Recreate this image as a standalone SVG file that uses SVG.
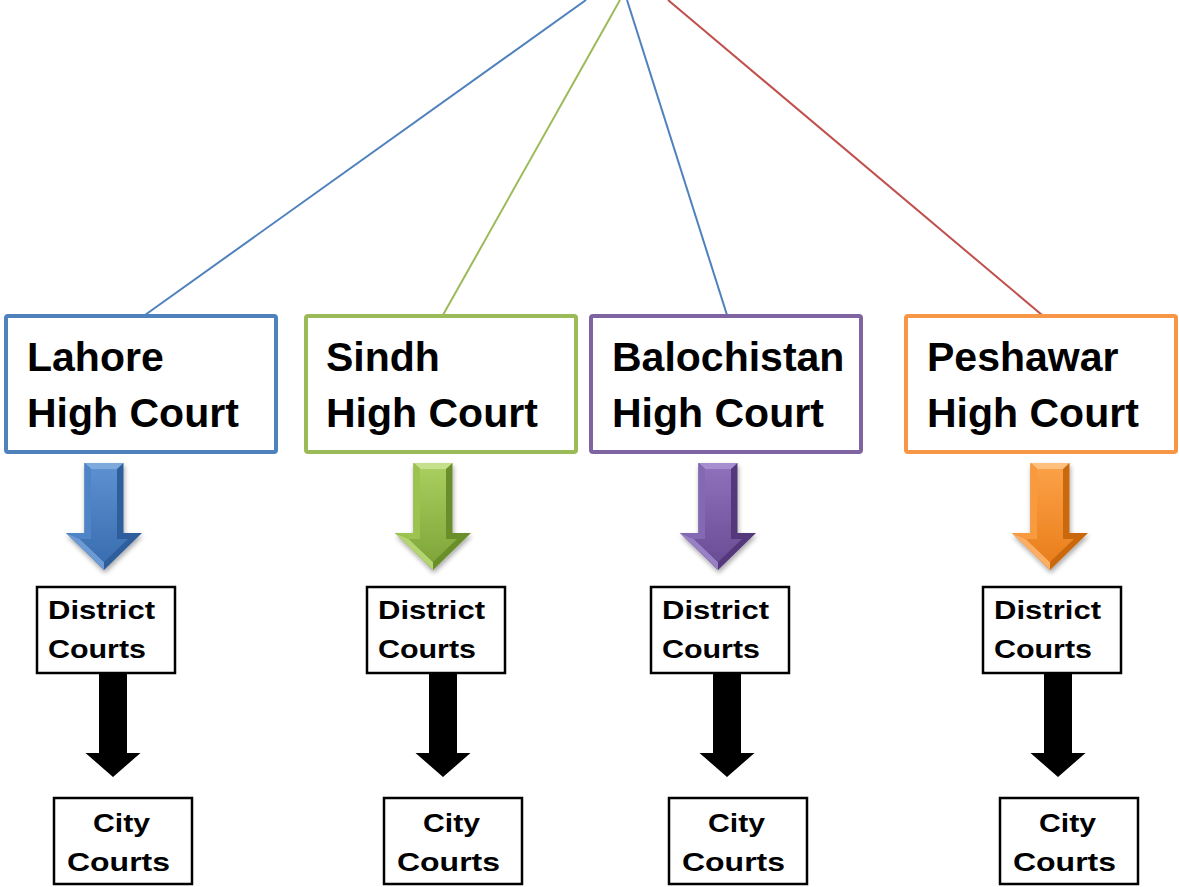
<svg xmlns="http://www.w3.org/2000/svg" width="1179" height="887" viewBox="0 0 1179 887">
<style>
.hc{fill:#fff;stroke-width:4}
.big{font-family:"Liberation Sans",Arial,sans-serif;font-weight:bold;font-size:41px;fill:#000}
.sm{font-family:"Liberation Sans",Arial,sans-serif;font-weight:bold;font-size:25px;fill:#000}
.lb{fill:#fff;stroke:#000;stroke-width:2.5}
.conn line{stroke-width:2;fill:none}
</style>
<defs>
<path id="arr" d="M-19.5,0 H19.5 V70 H38 L0,107 L-38,70 H-19.5 Z"/>
<path id="arrTop" d="M-19.5,0 H19.5 L13,6 H-13 Z"/>
<path id="arrL" d="M-19.5,0 L-13,6 V76 H-24 L-38,70 H-19.5 Z"/>
<path id="arrHL" d="M-38,70 L-24,76 L0,99 L0,107 Z"/>
<path id="arrFace" d="M-13,6 H13 V76 H24 L0,99 L-24,76 H-13 Z"/>
<path id="bk" d="M-14,0 H14 V79 H27.5 L0,103 L-27.5,79 H-14 Z"/>
<linearGradient id="gB" x1="0" y1="0" x2="0" y2="1"><stop offset="0" stop-color="#5b8fd0"/><stop offset="1" stop-color="#3a6eb0"/></linearGradient>
<linearGradient id="gG" x1="0" y1="0" x2="0" y2="1"><stop offset="0" stop-color="#a9cd5e"/><stop offset="1" stop-color="#7fa63a"/></linearGradient>
<linearGradient id="gP" x1="0" y1="0" x2="0" y2="1"><stop offset="0" stop-color="#8e6fbb"/><stop offset="1" stop-color="#6a4d95"/></linearGradient>
<linearGradient id="gO" x1="0" y1="0" x2="0" y2="1"><stop offset="0" stop-color="#fba046"/><stop offset="1" stop-color="#ea7f1c"/></linearGradient>
<filter id="sh" x="-30%" y="-20%" width="160%" height="150%"><feGaussianBlur in="SourceAlpha" stdDeviation="2.5"/><feOffset dx="1" dy="3"/><feComponentTransfer><feFuncA type="linear" slope="0.35"/></feComponentTransfer><feMerge><feMergeNode/><feMergeNode in="SourceGraphic"/></feMerge></filter>
</defs>
<rect width="1179" height="887" fill="#fff"/>

<g id="connectors" class="conn">
<line x1="586" y1="0" x2="145" y2="315" stroke="#4f81bd"/>
<line x1="620" y1="0" x2="443" y2="315" stroke="#9bbb59"/>
<line x1="627" y1="0" x2="727" y2="315" stroke="#4f81bd"/>
<line x1="668" y1="0" x2="1042" y2="315" stroke="#c0504d"/>
</g>

<g id="lahore">
<rect class="hc" x="6" y="316" width="270" height="136" rx="2" stroke="#4f81bd"/>
<text class="big" x="27" y="371">Lahore</text>
<text class="big" x="27" y="427">High Court</text>
</g>
<g id="sindh">
<rect class="hc" x="306" y="316" width="270" height="136" rx="2" stroke="#9bbb59"/>
<text class="big" x="326" y="371">Sindh</text>
<text class="big" x="326" y="427">High Court</text>
</g>
<g id="balochistan">
<rect class="hc" x="591" y="316" width="270" height="136" rx="2" stroke="#8064a2"/>
<text class="big" x="612" y="371">Balochistan</text>
<text class="big" x="612" y="427">High Court</text>
</g>
<g id="peshawar">
<rect class="hc" x="906" y="316" width="270" height="136" rx="2" stroke="#f79646"/>
<text class="big" x="927" y="371">Peshawar</text>
<text class="big" x="927" y="427">High Court</text>
</g>

<g id="arrow-lahore" transform="translate(104,463)" filter="url(#sh)">
<use href="#arr" fill="#2f5f9c"/>
<use href="#arrTop" fill="#7ea9dd"/>
<use href="#arrL" fill="#4f84c6"/>
<use href="#arrHL" fill="#6d9ad3"/>
<use href="#arrFace" fill="url(#gB)"/>
</g>
<g id="arrow-sindh" transform="translate(433,463)" filter="url(#sh)">
<use href="#arr" fill="#6b8f2a"/>
<use href="#arrTop" fill="#c4e08a"/>
<use href="#arrL" fill="#9cc24f"/>
<use href="#arrHL" fill="#b3d470"/>
<use href="#arrFace" fill="url(#gG)"/>
</g>
<g id="arrow-balochistan" transform="translate(718,463)" filter="url(#sh)">
<use href="#arr" fill="#54397c"/>
<use href="#arrTop" fill="#a78fcf"/>
<use href="#arrL" fill="#8367b3"/>
<use href="#arrHL" fill="#9880c4"/>
<use href="#arrFace" fill="url(#gP)"/>
</g>
<g id="arrow-peshawar" transform="translate(1050,463)" filter="url(#sh)">
<use href="#arr" fill="#c9680f"/>
<use href="#arrTop" fill="#ffc07e"/>
<use href="#arrL" fill="#f99a3e"/>
<use href="#arrHL" fill="#fcae62"/>
<use href="#arrFace" fill="url(#gO)"/>
</g>

<g id="district-lahore">
<rect class="lb" x="37" y="587" width="138" height="86"/>
<text class="sm" x="48" y="619" textLength="107" lengthAdjust="spacingAndGlyphs">District</text>
<text class="sm" x="48" y="658" textLength="98" lengthAdjust="spacingAndGlyphs">Courts</text>
</g>
<g id="district-sindh">
<rect class="lb" x="367" y="587" width="138" height="86"/>
<text class="sm" x="378" y="619" textLength="107" lengthAdjust="spacingAndGlyphs">District</text>
<text class="sm" x="378" y="658" textLength="98" lengthAdjust="spacingAndGlyphs">Courts</text>
</g>
<g id="district-balochistan">
<rect class="lb" x="651" y="587" width="138" height="86"/>
<text class="sm" x="662" y="619" textLength="107" lengthAdjust="spacingAndGlyphs">District</text>
<text class="sm" x="662" y="658" textLength="98" lengthAdjust="spacingAndGlyphs">Courts</text>
</g>
<g id="district-peshawar">
<rect class="lb" x="983" y="587" width="138" height="86"/>
<text class="sm" x="994" y="619" textLength="107" lengthAdjust="spacingAndGlyphs">District</text>
<text class="sm" x="994" y="658" textLength="98" lengthAdjust="spacingAndGlyphs">Courts</text>
</g>

<g id="black-arrows" fill="#000">
<use href="#bk" transform="translate(113,674)"/>
<use href="#bk" transform="translate(443,674)"/>
<use href="#bk" transform="translate(727,674)"/>
<use href="#bk" transform="translate(1058,674)"/>
</g>

<g id="city-lahore">
<rect class="lb" x="54" y="798" width="138" height="86"/>
<text class="sm" x="93" y="832" textLength="57" lengthAdjust="spacingAndGlyphs">City</text>
<text class="sm" x="67" y="871" textLength="103" lengthAdjust="spacingAndGlyphs">Courts</text>
</g>
<g id="city-sindh">
<rect class="lb" x="384" y="798" width="138" height="86"/>
<text class="sm" x="423" y="832" textLength="57" lengthAdjust="spacingAndGlyphs">City</text>
<text class="sm" x="397" y="871" textLength="103" lengthAdjust="spacingAndGlyphs">Courts</text>
</g>
<g id="city-balochistan">
<rect class="lb" x="669" y="798" width="138" height="86"/>
<text class="sm" x="708" y="832" textLength="57" lengthAdjust="spacingAndGlyphs">City</text>
<text class="sm" x="682" y="871" textLength="103" lengthAdjust="spacingAndGlyphs">Courts</text>
</g>
<g id="city-peshawar">
<rect class="lb" x="1000" y="798" width="138" height="86"/>
<text class="sm" x="1039" y="832" textLength="57" lengthAdjust="spacingAndGlyphs">City</text>
<text class="sm" x="1013" y="871" textLength="103" lengthAdjust="spacingAndGlyphs">Courts</text>
</g>
</svg>
